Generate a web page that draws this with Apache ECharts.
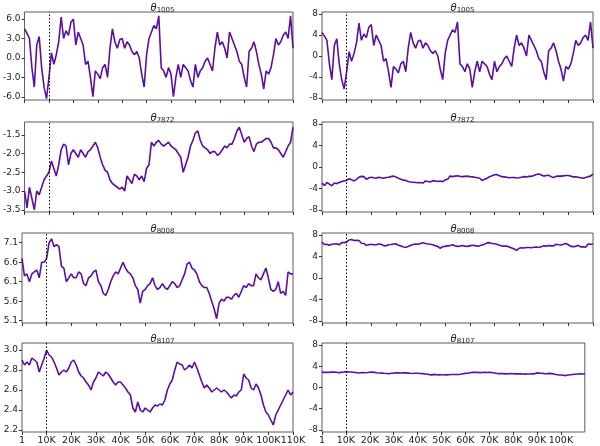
<!DOCTYPE html>
<html>
<head>
<meta charset="utf-8">
<script src="https://cdn.jsdelivr.net/npm/echarts@6/dist/echarts.min.js"></script>
<style>html,body{margin:0;background:#fff}#chart{width:600px;height:446px}</style>
</head>
<body>
<div id="chart"></div>
<script>
// one sample every 1000 iterations (index 0 is iteration 1)
const theta1005 = [4.5,3.8,3.0,-1.5,-4.5,2.0,3.3,-1.5,-4.5,-6.3,
  -3.0,0.8,-1.0,0.5,2.5,6.3,3.0,4.2,3.5,5.5,
  6.0,2.0,4.0,3.0,2.0,-1.0,-0.5,-3.0,-6.0,-2.0,
  -2.5,-3.2,-1.5,-1.0,-3.0,1.5,4.5,2.5,1.5,2.8,
  3.0,1.5,2.5,2.0,1.0,0.5,1.0,0.0,-2.5,-4.5,
  0.5,3.0,4.0,5.0,4.5,6.5,-1.5,-2.0,-3.0,-1.5,
  -2.5,-6.0,-3.0,-1.0,-3.0,-1.0,-1.5,-2.0,-3.5,-4.5,
  -1.0,-3.0,-2.0,-1.5,-0.5,0.0,-1.0,-2.0,1.5,4.0,
  2.0,2.5,1.5,0.0,4.0,3.0,2.0,1.0,-0.5,-1.0,
  -3.0,-4.5,1.0,1.5,2.5,1.0,-1.0,-2.5,-4.8,-2.0,
  -2.5,-1.5,0.5,3.0,2.0,2.5,3.5,4.0,3.0,6.5,1.5]
const theta7872 = [-3.0,-3.45,-2.9,-3.2,-3.5,-3.0,-3.1,-2.9,-2.7,-2.6,
  -2.5,-2.2,-2.4,-2.6,-2.3,-1.9,-1.75,-1.8,-2.3,-2.0,
  -1.9,-2.0,-2.1,-1.9,-2.0,-2.1,-1.95,-1.9,-1.8,-1.7,
  -1.85,-2.1,-2.3,-2.45,-2.5,-2.7,-2.8,-2.85,-2.9,-2.95,
  -2.9,-3.0,-2.6,-2.7,-2.8,-2.55,-2.6,-2.7,-2.6,-2.75,
  -2.4,-2.3,-1.7,-1.8,-1.7,-1.65,-1.75,-1.8,-1.75,-1.7,
  -1.8,-1.85,-1.9,-2.0,-2.1,-2.5,-2.3,-2.1,-1.8,-1.65,
  -1.45,-1.4,-1.65,-1.8,-1.85,-1.9,-2.0,-1.95,-1.95,-2.05,
  -2.0,-1.9,-1.8,-1.85,-1.75,-1.75,-1.6,-1.4,-1.3,-1.5,
  -1.7,-1.6,-1.55,-1.8,-1.95,-1.75,-1.7,-1.7,-1.65,-1.6,
  -1.6,-1.7,-1.85,-1.85,-1.9,-2.0,-2.1,-1.95,-1.8,-1.7,-1.3]
const theta8008 = [6.7,6.25,6.3,6.1,6.3,6.35,6.4,6.2,6.6,6.6,
  6.7,7.1,7.2,7.0,7.05,7.0,6.5,6.45,6.1,6.2,
  6.3,6.2,6.2,6.35,6.3,6.05,6.0,6.2,6.25,6.35,
  6.4,6.1,6.0,5.8,5.75,5.9,6.1,6.25,6.35,6.3,
  6.45,6.6,6.45,6.35,6.3,6.2,6.0,5.9,5.55,5.85,
  5.9,6.0,6.05,6.2,6.0,5.9,5.95,6.05,5.95,5.9,
  6.0,6.1,6.05,5.95,6.0,6.15,6.3,6.55,6.6,6.45,
  6.4,6.3,6.1,6.0,5.95,5.95,5.8,5.6,5.4,5.15,
  5.55,5.65,5.6,5.7,5.7,5.65,5.75,5.8,5.7,5.85,
  6.0,5.95,6.05,6.0,6.0,6.3,6.2,6.15,6.3,6.45,
  6.2,5.9,5.85,5.9,6.1,5.8,5.85,5.75,6.35,6.3,6.3]
const theta8107 = [2.9,2.85,2.88,2.85,2.92,2.9,2.88,2.78,2.85,2.92,
  3.0,2.95,2.93,2.88,2.82,2.75,2.78,2.8,2.78,2.82,
  2.88,2.9,2.85,2.78,2.74,2.72,2.68,2.65,2.6,2.68,
  2.72,2.78,2.76,2.74,2.78,2.76,2.72,2.68,2.65,2.68,
  2.68,2.65,2.62,2.58,2.55,2.42,2.38,2.48,2.4,2.38,
  2.42,2.4,2.38,2.42,2.45,2.44,2.46,2.45,2.5,2.6,
  2.66,2.7,2.8,2.88,2.86,2.85,2.8,2.82,2.85,2.82,
  2.88,2.82,2.75,2.68,2.62,2.65,2.62,2.58,2.6,2.62,
  2.6,2.58,2.6,2.58,2.55,2.52,2.55,2.54,2.58,2.6,
  2.76,2.72,2.7,2.62,2.6,2.66,2.62,2.55,2.45,2.38,
  2.35,2.3,2.25,2.35,2.4,2.45,2.5,2.55,2.6,2.55,2.58]

const names = ['1005', '7872', '8008', '8107']
const traces = [theta1005, theta7872, theta8008, theta8107]
const leftRanges = [[-6.5, 7.1], [-3.56, -1.16], [5.04, 7.35], [2.18, 3.07]]
const leftTicks = [[-6, -3, 0, 3, 6], [-3.5, -3, -2.5, -2, -1.5], [5.1, 5.6, 6.1, 6.6, 7.1], [2.2, 2.4, 2.6, 2.8, 3.0]]
const rightTicks = [-8, -4, 0, 4, 8]
const xTicks = [0, 10000, 20000, 30000, 40000, 50000, 60000, 70000, 80000, 90000, 100000, 110000]
const burnIn = 10000

const tops = [12, 122, 233, 343]
const heights = [88, 90, 90, 91]
const color = '#5c0f9e'

const grids = [], xAxes = [], yAxes = [], series = [], titles = []
for (let r = 0; r < 4; r++) {
  const data = traces[r].map((v, i) => [i * 1000, v])
  for (let c = 0; c < 2; c++) {
    const idx = r * 2 + c
    grids.push({left: c ? 322 : 22, width: 271, top: tops[r], height: heights[r],
      show: true, borderColor: '#333', borderWidth: 0.8})
    xAxes.push({type: 'value', gridIndex: idx, min: 0, max: 110000,
      splitLine: {show: false}, axisLine: {show: false, onZero: false},
      axisTick: {show: true, inside: false, length: 3, customValues: xTicks, lineStyle: {color: '#333'}},
      axisLabel: {show: r === 3, fontSize: 9.5, color: '#222', margin: 4, customValues: xTicks,
        formatter: v => v === 0 ? '1' : (v / 1000) + 'K'}})
    const ticks = c ? rightTicks : leftTicks[r]
    yAxes.push({type: 'value', gridIndex: idx,
      min: c ? -8.4 : leftRanges[r][0], max: c ? 8.4 : leftRanges[r][1],
      splitLine: {show: false}, axisLine: {show: false, onZero: false},
      axisTick: {show: true, length: 3, customValues: ticks, lineStyle: {color: '#333'}},
      axisLabel: {fontSize: 9, color: '#222', margin: 4, customValues: ticks,
        formatter: v => c ? String(v) : v.toFixed(1)}})
    series.push({type: 'line', xAxisIndex: idx, yAxisIndex: idx, data: data,
      showSymbol: false, silent: true, lineStyle: {color: color, width: 1.6},
      markLine: {symbol: 'none', silent: true, label: {show: false},
        lineStyle: {color: '#000', type: [1.5, 2], width: 1},
        data: [{xAxis: burnIn}]}})
    titles.push({text: '{t|θ}{s|' + names[r] + '}', left: (c ? 322 : 22) + 135.5, top: tops[r] - 14,
      textAlign: 'center',
      textStyle: {fontWeight: 'normal', rich: {t: {fontSize: 10, fontStyle: 'italic', fontWeight: 'normal', color: '#222'},
        s: {fontSize: 7, color: '#222', fontWeight: 'normal', verticalAlign: 'bottom', padding: [4, 0, 0, 0]}}}})
  }
}

const chart = echarts.init(document.getElementById('chart'), null, {renderer: 'canvas'})
chart.setOption({
  animation: false,
  textStyle: {fontFamily: 'DejaVu Sans'},
  title: titles,
  grid: grids,
  xAxis: xAxes,
  yAxis: yAxes,
  series: series
})
</script>
</body>
</html>
